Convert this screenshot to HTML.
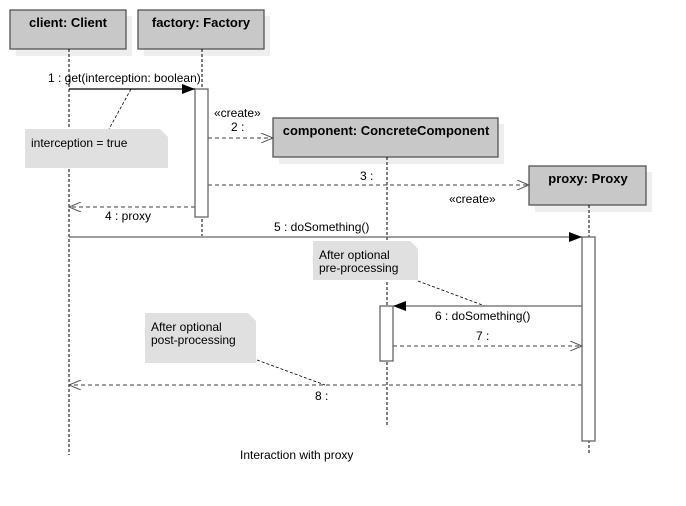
<!DOCTYPE html>
<html><head><style>body{margin:0;background:#fff}svg{display:block}text{font-family:"Liberation Sans",sans-serif;font-size:12px;fill:#000}.b{font-weight:bold;font-size:13px}</style></head><body>
<svg width="686" height="506" xmlns="http://www.w3.org/2000/svg">
<defs>
<marker id="f" markerWidth="14" markerHeight="10" refX="13" refY="5" orient="auto" markerUnits="userSpaceOnUse"><path d="M0,0 L13,5 L0,10 z" fill="#000"/></marker>
<marker id="o" markerWidth="14" markerHeight="10" refX="12" refY="5" orient="auto" markerUnits="userSpaceOnUse"><path d="M0,0 L12,5 L0,10" fill="none" stroke="#555" stroke-width="1"/></marker>
</defs>
<!-- shadows -->
<g fill="#eee">
<rect x="16" y="16" width="116" height="40"/><rect x="144" y="16" width="126" height="40"/>
<rect x="279" y="124" width="225" height="40"/><rect x="535" y="172" width="117" height="40"/>
</g>
<g fill="#c8c8c8" stroke="#555" stroke-width="1.3">
<rect x="10" y="10" width="116" height="39"/><rect x="138" y="10" width="126" height="39"/>
<rect x="273" y="118" width="225" height="39"/><rect x="529" y="166" width="117" height="39"/>
</g>
<text class="b" x="68" y="27" text-anchor="middle">client: Client</text>
<text class="b" x="201" y="27" text-anchor="middle">factory: Factory</text>
<text class="b" x="386" y="135" text-anchor="middle">component: ConcreteComponent</text>
<text class="b" x="588" y="183" text-anchor="middle">proxy: Proxy</text>
<!-- lifelines -->
<g stroke="#000" stroke-dasharray="3,2" stroke-width="1">
<line x1="69" y1="49" x2="69" y2="455"/><line x1="202" y1="49" x2="202" y2="236"/>
<line x1="387" y1="157" x2="387" y2="425"/><line x1="589" y1="205" x2="589" y2="455"/>
</g>
<!-- notes -->
<g fill="#e0e0e0">
<path d="M25,129 H160 L168,137 V168 H25 z"/>
<path d="M313,241 H410 L418,249 V280 H313 z"/>
<path d="M145,313 H248 L256,321 V363 H145 z"/>
</g>
<g stroke="#000" stroke-dasharray="3,2" stroke-width="0.8">
<line x1="131" y1="89" x2="109" y2="129"/>
<line x1="418" y1="281" x2="485" y2="306"/>
<line x1="257" y1="360" x2="325" y2="385"/>
</g>
<text x="31" y="147">interception = true</text>
<text x="319" y="259">After optional</text><text x="319" y="272">pre-processing</text>
<text x="151" y="331">After optional</text><text x="151" y="344">post-processing</text>
<!-- activations -->
<g fill="#fff" stroke="#666" stroke-width="1.3">
<rect x="195" y="89" width="13" height="128"/>
<rect x="582" y="237" width="13" height="204"/>
<rect x="380" y="306" width="13" height="55"/>
</g>
<!-- messages -->
<g stroke="#666" stroke-width="1.3" fill="none">
<line x1="69" y1="89" x2="195" y2="89" stroke="#000" marker-end="url(#f)"/>
<line x1="69" y1="237" x2="582" y2="237" marker-end="url(#f)"/>
<line x1="582" y1="306" x2="393" y2="306" marker-end="url(#f)"/>
</g>
<g stroke="#666" stroke-width="1.2" stroke-dasharray="4,3" fill="none">
<line x1="208" y1="138" x2="273" y2="138" marker-end="url(#o)"/>
<line x1="208" y1="185" x2="529" y2="185" marker-end="url(#o)"/>
<line x1="195" y1="207" x2="69" y2="207" marker-end="url(#o)"/>
<line x1="393" y1="346" x2="582" y2="346" marker-end="url(#o)"/>
<line x1="582" y1="385" x2="69" y2="385" marker-end="url(#o)"/>
</g>
<text x="48" y="82">1 : get(interception: boolean)</text>
<text x="214" y="117" font-size="11">«create»</text>
<text x="231" y="131">2 :</text>
<text x="360" y="180">3 :</text>
<text x="449" y="203" font-size="11">«create»</text>
<text x="105" y="220">4 : proxy</text>
<text x="274" y="231">5 : doSomething()</text>
<text x="435" y="320">6 : doSomething()</text>
<text x="476" y="340">7 :</text>
<text x="315" y="400">8 :</text>
<text x="240" y="459">Interaction with proxy</text>
</svg>
</body></html>
